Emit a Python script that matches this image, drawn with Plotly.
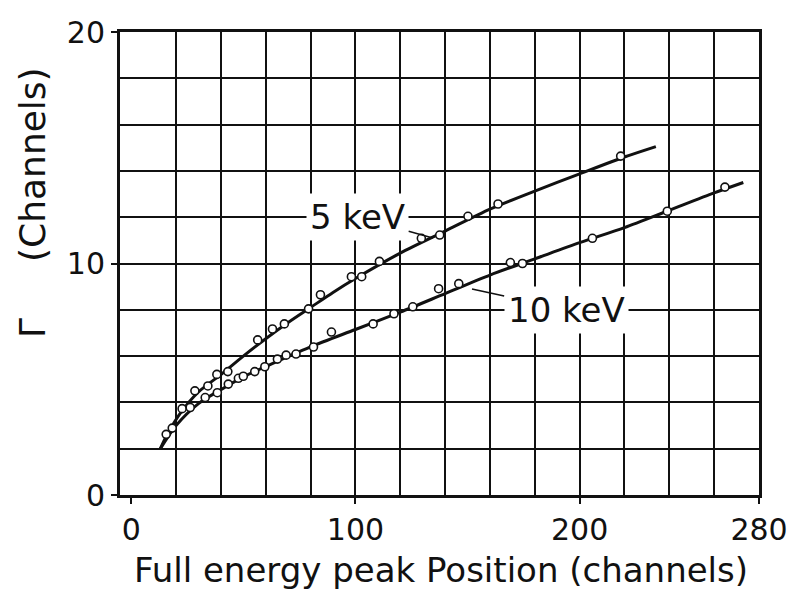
import plotly.graph_objects as go

# ---- data ----
# measured points (open circles)
x_5kev = [15.6, 22.7, 28.4, 34.2, 38.2, 43.1, 56.4, 63.0, 68.3, 79.1, 84.4, 98.2,
          102.8, 110.7, 129.4, 137.6, 150.2, 163.6, 218.3]
y_5kev = [2.62, 3.73, 4.50, 4.71, 5.21, 5.33, 6.70, 7.17, 7.39, 8.04, 8.65, 9.43,
          9.43, 10.09, 11.09, 11.23, 12.04, 12.57, 14.64]

x_10kev = [18.3, 26.3, 33.0, 38.4, 43.3, 47.8, 50.0, 55.1, 59.6, 65.2, 69.1, 73.5,
           81.3, 89.3, 107.9, 117.2, 125.6, 137.1, 146.1, 169.1, 174.5, 205.7,
           239.1, 264.8]
y_10kev = [2.89, 3.78, 4.21, 4.42, 4.79, 5.04, 5.13, 5.33, 5.54, 5.87, 6.04, 6.09,
           6.39, 7.04, 7.39, 7.83, 8.13, 8.91, 9.13, 10.04, 10.00, 11.09,
           12.26, 13.30]

# hand-drawn smooth curves
curve_5kev_x = [13, 16, 22, 30, 40, 50, 60, 70, 80, 90, 100, 120, 140, 160, 180,
                200, 220, 234]
curve_5kev_y = [2.0, 2.6, 3.55, 4.45, 5.2, 6.0, 6.75, 7.45, 8.1, 8.75, 9.35, 10.45,
                11.4, 12.35, 13.13, 13.87, 14.6, 15.05]

curve_10kev_x = [13, 20, 30, 40, 50, 60, 80, 100, 120, 140, 160, 180, 200, 220,
                 240, 260, 273]
curve_10kev_y = [2.0, 3.0, 3.95, 4.55, 5.1, 5.55, 6.4, 7.15, 7.9, 8.7, 9.5, 10.2,
                 10.9, 11.55, 12.3, 13.05, 13.5]

x_tick_vals = [0, 100, 200, 280]
x_tick_text = ["0", "100", "200", "280"]
y_tick_vals = [0, 10, 20]
y_tick_text = ["0", "10", "20"]
x_grid_vals = list(range(20, 281, 20))
y_grid_vals = list(range(0, 21, 2))

INK = "#111111"
FONT = "DejaVu Sans"

fig = go.Figure()

for cx, cy in [(curve_5kev_x, curve_5kev_y), (curve_10kev_x, curve_10kev_y)]:
    fig.add_trace(go.Scatter(x=cx, y=cy, mode="lines",
                             line=dict(color=INK, width=3, shape="spline", smoothing=0.8),
                             hoverinfo="skip", showlegend=False))

for px, py in [(x_5kev, y_5kev), (x_10kev, y_10kev)]:
    fig.add_trace(go.Scatter(x=px, y=py, mode="markers",
                             marker=dict(symbol="circle", size=8, color="white",
                                         line=dict(color=INK, width=1.6)),
                             showlegend=False))

XR = [-5, 280]
YR = [0, 20]

fig.update_layout(
    width=811, height=595,
    margin=dict(l=120, r=52, t=32, b=100),
    paper_bgcolor="white", plot_bgcolor="white",
    font=dict(family=FONT, color=INK),
    xaxis=dict(range=XR, tickvals=x_grid_vals, showticklabels=False, ticks="",
               showgrid=True, gridcolor=INK, gridwidth=2,
               showline=True, linecolor=INK, linewidth=3, mirror=True,
               zeroline=False),
    yaxis=dict(range=YR, tickvals=y_grid_vals, showticklabels=False, ticks="",
               showgrid=True, gridcolor=INK, gridwidth=2,
               showline=True, linecolor=INK, linewidth=3, mirror=True,
               zeroline=False),
    xaxis2=dict(range=XR, overlaying="x", side="bottom", anchor="y",
                tickvals=x_tick_vals, ticktext=x_tick_text,
                ticks="outside", ticklen=8, tickwidth=2, tickcolor=INK,
                tickfont=dict(size=30, family=FONT, color=INK),
                showgrid=False, showline=False, zeroline=False),
    yaxis2=dict(range=YR, overlaying="y", side="left", anchor="x",
                tickvals=y_tick_vals, ticktext=y_tick_text,
                ticks="outside", ticklen=8, tickwidth=2, tickcolor=INK,
                tickfont=dict(size=30, family=FONT, color=INK),
                showgrid=False, showline=False, zeroline=False),
)

# dummy invisible trace so the label axes are drawn
fig.add_trace(go.Scatter(x=[XR[0]], y=[YR[0]], xaxis="x2", yaxis="y2",
                         mode="markers", marker=dict(opacity=0), hoverinfo="skip",
                         showlegend=False))

# axis titles
fig.add_annotation(text="Full energy peak Position (channels)", xref="paper", yref="paper",
                   x=0.502, y=-0.163, xanchor="center", yanchor="middle",
                   showarrow=False, font=dict(size=34, family=FONT, color=INK))
fig.add_annotation(text="(Channels)", xref="paper", yref="paper",
                   x=-0.136, y=0.713, xanchor="center", yanchor="middle", textangle=-90,
                   showarrow=False, font=dict(size=36, family=FONT, color=INK))
fig.add_annotation(text="Γ", xref="paper", yref="paper",
                   x=-0.136, y=0.361, xanchor="center", yanchor="middle", textangle=-90,
                   showarrow=False, font=dict(size=36, family=FONT, color=INK))

# curve labels with leader lines
fig.add_annotation(text="5 keV", x=134.5, y=11.1, ax=101, ay=12, axref="x", ayref="y",
                   showarrow=True, arrowhead=0, arrowwidth=1.6, arrowcolor=INK,
                   bgcolor="white", borderpad=3,
                   font=dict(size=34, family=FONT, color=INK))
fig.add_annotation(text="10 keV", x=152, y=8.9, ax=194, ay=8, axref="x", ayref="y",
                   showarrow=True, arrowhead=0, arrowwidth=1.6, arrowcolor=INK,
                   bgcolor="white", borderpad=3,
                   font=dict(size=34, family=FONT, color=INK))

fig.write_html("out.html")
